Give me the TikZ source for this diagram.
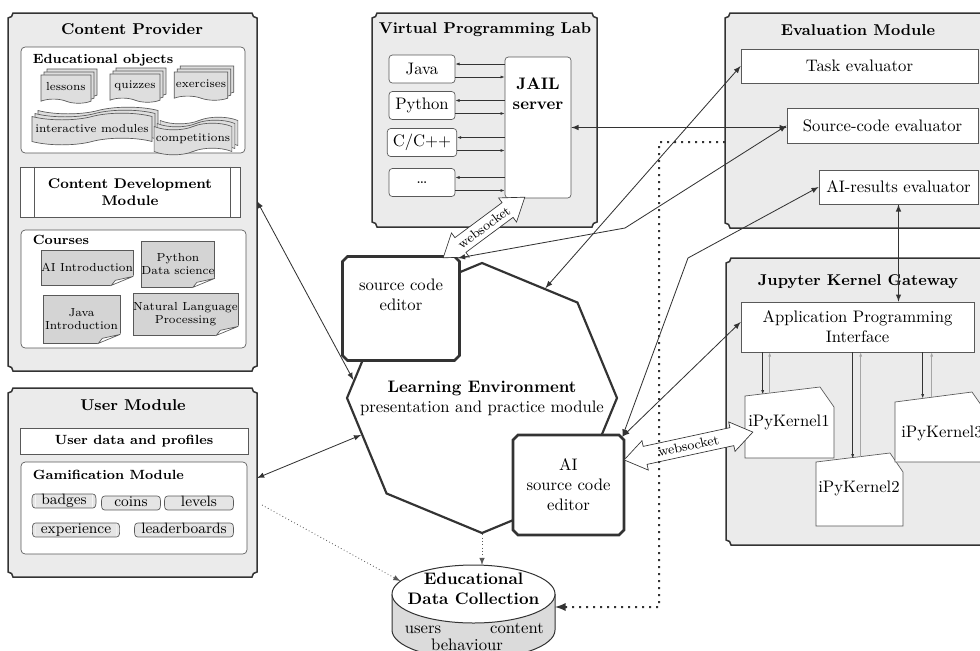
\documentclass[tikz,border=0pt]{standalone}
\usetikzlibrary{shapes.geometric,shapes.misc,shapes.symbols,shapes.arrows,shadows,fit,calc,arrows.meta}

\definecolor{modfill}{gray}{0.92}
\definecolor{docfill}{gray}{0.87}
\definecolor{notefill}{gray}{0.83}
\definecolor{tagfill}{gray}{0.90}
\definecolor{cylfill}{gray}{0.86}
\definecolor{darkline}{gray}{0.2}
\definecolor{midline}{gray}{0.35}

\tikzset{
  modbg/.style={inner sep=0pt,outer sep=0pt},
  modline/.style={draw=darkline,line width=0.9pt,fill=modfill},
  modtitle/.style={font=\fontsize{9.4}{11}\selectfont\bfseries},
  boxtitle/.style={font=\footnotesize\bfseries,anchor=west},
  inbox/.style={draw=midline,fill=white,rounded corners=2.5pt,inner sep=0pt},
  plainbox/.style={draw=midline,fill=white,inner sep=0pt,align=center},
  eduobj/.style={tape,tape bend top=none,tape bend bottom=out and in,tape bend height=2.5pt,
    draw=midline,fill=docfill,font=\scriptsize,inner sep=1pt,minimum width=30pt,minimum height=17pt,
    copy shadow={shadow xshift=3.6pt,shadow yshift=3.6pt,draw=midline,fill=docfill},
    copy shadow={shadow xshift=1.8pt,shadow yshift=1.8pt,draw=midline,fill=docfill}},
  eduflag/.style={eduobj,tape bend top=in and out,tape bend bottom=in and out,tape bend height=4pt,
    minimum height=19pt},
  coursenote/.style={draw=midline,fill=notefill,font=\scriptsize,align=center,inner sep=0pt},
  gametag/.style={fill=tagfill,inner xsep=1pt,inner ysep=0pt,minimum height=8pt,
    text height=6pt,text depth=1.6pt,font=\small},
  langbox/.style={draw=midline,fill=white,rounded corners=2pt,minimum width=39.6pt,minimum height=16.8pt},
  kernelcard/.style={draw=midline,fill=white},
  octa/.style={regular polygon,regular polygon sides=8,shape border rotate=22.5,minimum size=162pt,
    draw=darkline,line width=1.3pt,fill=white,inner sep=0pt},
  editorbox/.style={chamfered rectangle,chamfered rectangle xsep=1.5pt,chamfered rectangle ysep=1.5pt,
    draw=darkline,line width=1.6pt,fill=white,inner sep=0pt},
  wsarrow/.style={double arrow,double arrow head extend=3.5pt,double arrow tip angle=70,
    draw=darkline,fill=white,font=\footnotesize,inner xsep=1pt,inner ysep=2.5pt,minimum width=16pt},
  conn/.style={draw=darkline,line width=0.5pt},
  tinyarrow/.style={draw=darkline,line width=0.4pt,-{Latex[length=2.5pt,width=1.8pt]}},
  upgray/.style={draw=gray!70,line width=0.4pt,-{Latex[length=2.5pt,width=1.8pt]}},
  dotline/.style={draw=midline,line width=0.5pt,dash pattern=on 0.5pt off 1.5pt},
  bigdots/.style={draw=darkline,line width=1.2pt,dash pattern=on 1.2pt off 3pt},
}

% module frame with notched corners
\newcommand\modframe[1]{%
  \draw[modline] ([xshift=3pt]#1.north west) -- ([xshift=-3pt]#1.north east)
    arc[start angle=180,end angle=270,radius=3pt] -- ([yshift=3pt]#1.south east)
    arc[start angle=90,end angle=180,radius=3pt] -- ([xshift=3pt]#1.south west)
    arc[start angle=0,end angle=90,radius=3pt] -- ([yshift=-3pt]#1.north west)
    arc[start angle=270,end angle=360,radius=3pt] -- cycle;}
% curled corner of a course sheet
\newcommand\curl[1]{%
  \fill[white] ($(#1.south east)+(1,-10)$) -- ($(#1.south east)+(1,1)$) -- ($(#1.south east)+(-24,1)$) -- cycle;
  \draw[draw=midline,fill=white] ($(#1.south east)+(0,-9)$) -- ($(#1.south east)+(-22,0)$)
    -- ($(#1.south east)+(-18,-5)$) -- cycle;}
% brace-like sides of a gamification tag
\newcommand\tagsides[1]{%
  \fill[tagfill] (#1.north west) .. controls +(-2pt,0) and +(0,2pt) .. ([xshift=-2pt]#1.west)
      .. controls +(0,-2pt) and +(-2pt,0) .. (#1.south west) -- cycle
    (#1.north east) .. controls +(2pt,0) and +(0,2pt) .. ([xshift=2pt]#1.east)
      .. controls +(0,-2pt) and +(2pt,0) .. (#1.south east) -- cycle;
  \draw[draw=midline,line width=0.4pt] (#1.north west) .. controls +(-2pt,0) and +(0,2pt) .. ([xshift=-2pt]#1.west)
      .. controls +(0,-2pt) and +(-2pt,0) .. (#1.south west) -- (#1.south east)
      .. controls +(2pt,0) and +(0,-2pt) .. ([xshift=2pt]#1.east)
      .. controls +(0,2pt) and +(2pt,0) .. (#1.north east) -- cycle;}

\begin{document}
\begin{tikzpicture}[x=0.6pt,y=-0.6pt,>=latex]
 \useasboundingbox (0,0) rectangle (980,650);

 % content provider
 \node[modbg,fit={(8,13)(257,371)}] (cp) {};
 \modframe{cp}
 \node[modtitle] (cptitle) at (132,29) {Content Provider};
 \node[inbox,fit={(21,47)(245,153)}] (eo) {};
 \node[boxtitle] (eotitle) at (27,60) {Educational objects};
 \node[eduobj] (lessons) at (66,87) {lessons};
 \node[eduobj] (quizzes) at (135,86) {quizzes};
 \node[eduobj] (exercises) at (201,84) {exercises};
 \node[eduflag,minimum width=72pt] (interactive) at (92,129) {interactive modules};
 \node[eduflag,minimum width=46pt] (competitions) at (193,139) {competitions};
 \node[plainbox,minimum width=132pt,minimum height=30pt,font=\fontsize{8.4}{10}\selectfont\bfseries]
   (cdm) at (130,192) {Content Development\\Module};
 \draw[midline] ([xshift=9pt]cdm.north west) -- ([xshift=9pt]cdm.south west)
   ([xshift=-6pt]cdm.north east) -- ([xshift=-6pt]cdm.south east);
 \node[inbox,fit={(21,230)(246,348)}] (courses) {};
 \node[boxtitle] (coursestitle) at (27,240) {Courses};
 \node[coursenote,minimum width=54pt,minimum height=21pt] (aiintro) at (87,267.5) {AI Introduction};
 \curl{aiintro}
 \node[coursenote,minimum width=42pt,minimum height=27.6pt] (pyds) at (178,264) {Python\\Data science};
 \curl{pyds}
 \node[coursenote,minimum width=46.2pt,minimum height=28.8pt] (javaintro) at (81.5,319) {Java\\Introduction};
 \curl{javaintro}
 \node[coursenote,minimum width=63pt,minimum height=25.2pt] (nlp) at (185.5,314) {Natural Language\\Processing};
 \curl{nlp}

 % user module
 \node[modbg,fit={(8,388)(257,577)}] (um) {};
 \modframe{um}
 \node[modtitle] (umtitle) at (133,405) {User Module};
 \node[plainbox,minimum width=136.8pt,minimum height=15.6pt,font=\footnotesize\bfseries]
   (profiles) at (134,441) {User data and profiles};
 \node[inbox,fit={(21,462)(247,554)}] (gm) {};
 \node[boxtitle] (gmtitle) at (27,475) {Gamification Module};
 \foreach \n/\x/\y/\w in {badges/64/501/34pt,coins/131/503/31pt,levels/199/503/37pt,
   experience/76/530/48pt,leaderboards/184/530/55pt}
 {
   \node[gametag,minimum width=\w] (\n) at (\x,\y) {\n};
   \tagsides{\n}
 }

 % virtual programming lab
 \node[modbg,fit={(372,13)(597,227)}] (vpl) {};
 \modframe{vpl}
 \node[modtitle] (vpltitle) at (485,30) {Virtual Programming Lab};
 \node[plainbox,rounded corners=2pt,fit={(505,57)(571,198)}] (jail) {};
 \node[font=\bfseries,align=center,anchor=north] (jailtext) at ([yshift=-9pt]jail.north) {JAIL\\server};
 \foreach \n/\t/\y in {java/Java/69,python/Python/105.5,cpp/{C/C++}/142.5,more/{\ldots}/182.5}
 {
   \node[langbox] (\n) at (422,\y) {\t};
   \draw[tinyarrow] ($(\n.east -| jail.west)+(0,-5)$) -- ($(\n.east)+(0,-5)$);
   \draw[tinyarrow] ($(\n.east)+(0,8)$) -- ($(\n.east -| jail.west)+(0,8)$);
 }

 % evaluation module
 \node[modbg,fit={(725,13)(990,228)}] (em) {};
 \modframe{em}
 \node[modtitle] (emtitle) at (858,30) {Evaluation Module};
 \node[plainbox,minimum width=142.2pt,minimum height=20.4pt] (task) at (859.5,66) {Task evaluator};
 \node[plainbox,minimum width=114.6pt,minimum height=21pt] (srceval) at (882.5,125.5) {Source-code evaluator};
 \node[plainbox,minimum width=95.4pt,minimum height=20.4pt] (aieval) at (898.5,187) {AI-results evaluator};

 % jupyter kernel gateway
 \node[modbg,fit={(726,258)(990,545)}] (jkg) {};
 \modframe{jkg}
 \node[modtitle] (jkgtitle) at (858,282) {Jupyter Kernel Gateway};
 \node[plainbox,minimum width=139.8pt,minimum height=30pt] (api) at (857.5,327) {Application Programming\\Interface};
 \draw[kernelcard] (745,396) -- (820,387) -- (834,407) -- (834,458) -- (745,458) -- cycle;
 \draw[kernelcard] (816,462) -- (890,453) -- (903,472) -- (903,526) -- (816,526) -- cycle;
 \draw[kernelcard] (895,402) -- (972,392) -- (986,412) -- (986,462) -- (895,462) -- cycle;
 \node (k1) at (789,422) {iPyKernel1};
 \node (k2) at (859,488) {iPyKernel2};
 \node (k3) at (942,433) {iPyKernel3};
 \draw[tinyarrow] ($(api.south west)+(22,0)$) -- ++(0,42);
 \draw[upgray] ($(api.south west)+(29,41)$) -- ++(0,-41);
 \draw[tinyarrow] ($(api.south west)+(112,0)$) -- ++(0,106);
 \draw[upgray] ($(api.south west)+(120,105)$) -- ++(0,-105);
 \draw[tinyarrow] ($(api.south west)+(182,0)$) -- ++(0,46);
 \draw[upgray] ($(api.south west)+(191,45)$) -- ++(0,-45);

 % learning environment
 \node[octa] (le) at (482,398) {};
 \node[align=center] (letext) at (482,398) {\textbf{Learning Environment}\\presentation and practice module};
 \node[editorbox,fit={(345,259)(457,358)}] (sce) {};
 \node[align=center,anchor=north] (scetext) at ([yshift=-11pt]sce.north) {source code\\editor};
 \node[editorbox,minimum width=66.6pt,minimum height=60pt,align=center] (aie) at (568.5,485) {AI\\source code\\editor};

 % data collection
 \filldraw[draw=darkline,fill=cylfill,line width=0.6pt] (392,594) -- (392,630)
   arc[start angle=180,end angle=360,x radius=48.9pt,y radius=17.4pt] -- (555,594);
 \node[draw=darkline,line width=0.6pt,fill=white,ellipse,minimum width=97.8pt,minimum height=34.8pt,
   inner sep=0pt,outer sep=0pt] (dc) at (473.5,594) {};
 \node[align=center,font=\bfseries] (dctitle) at (473.5,589) {Educational\\Data Collection};
 \node (dcusers) at (423,630) {users};
 \node (dccontent) at (517,628) {content};
 \node (dcbehaviour) at (467,645) {behaviour};

 % websockets
 \node[wsarrow,rotate=36.6,minimum height=61pt] (wsvpl) at (484,227.5) {websocket};
 \node[wsarrow,rotate=12.2,minimum height=79pt] (wsai) at (688.5,446) {websocket};

 % connections
 \coordinate (bendsrc) at (625,228);
 \coordinate (bendai) at (688,258);
 \draw[conn,<->] ([yshift=-5.4pt]cp.east) -- (le.172);
 \draw[conn,<->] ([yshift=2.7pt]um.east) -- (le.197);
 \draw[dotline,->] ([xshift=3pt,yshift=-13.5pt]um.east) -- (dc.170);
 \draw[dotline,->] (le.270) -- (le.270 |- dc.north);
 \draw[bigdots,->] ([yshift=-12.9pt]em.west) -| (659,607) -- ([yshift=-7.8pt]dc.east);
 \draw[conn,<->] (jail.east) -- (jail.east -| srceval.west);
 \draw[conn,<->] (le.60) -- (task.west);
 \draw[conn,<->] (sce.north east) -- (bendsrc) -- (srceval.west);
 \draw[conn,<->] (aie.north east) -- (bendai) -- (aieval.west);
 \draw[conn,<->] (aie.north east) -- ([yshift=3pt]api.west);
 \draw[conn,<->] (aieval.south) -- (aieval.south |- api.north);
\end{tikzpicture}
\end{document}
